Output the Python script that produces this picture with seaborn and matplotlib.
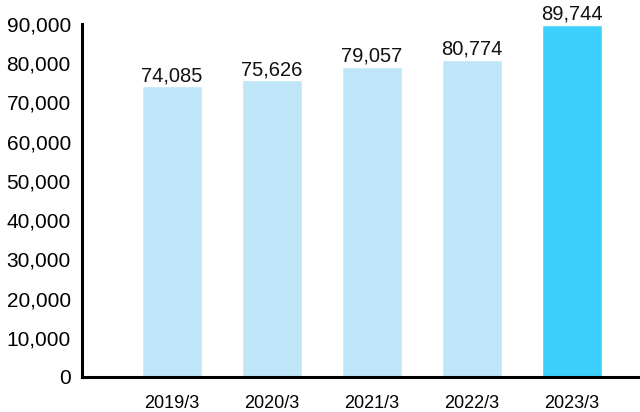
import matplotlib
matplotlib.use("Agg")
import matplotlib.pyplot as plt
import seaborn as sns
import pandas as pd

categories = ["2019/3", "2020/3", "2021/3", "2022/3", "2023/3"]
values = [74085, 75626, 79057, 80774, 89744]
bar_colors = ["#BEE5F8", "#BEE5F8", "#BEE5F8", "#BEE5F8", "#3DD0FD"]
y_ticks = [0, 10000, 20000, 30000, 40000, 50000, 60000, 70000, 80000, 90000]

sns.set_style("white")
plt.rcParams["font.family"] = ["Liberation Sans", "DejaVu Sans"]

df = pd.DataFrame({"period": categories, "value": values})

fig = plt.figure(figsize=(6.4, 4.12), dpi=100)
ax = fig.add_axes([0.128, 0.085, 0.869, 0.857])

sns.barplot(data=df, x="period", y="value", hue="period", palette=bar_colors,
            width=0.6, legend=False, ax=ax, saturation=1)

for p, v in zip(ax.patches, values):
    ax.text(p.get_x() + p.get_width() / 2, p.get_height() + 1300, f"{v:,}",
            ha="center", va="baseline", fontsize=14.5, color="#111111",
            clip_on=False)

ax.set_ylim(0, 90000)
ax.set_xlim(-0.9, 4.66)
ax.set_yticks(y_ticks)
ax.set_yticklabels([f"{t:,}" for t in y_ticks])
ax.set_xlabel("")
ax.set_ylabel("")

for s in ["top", "right"]:
    ax.spines[s].set_visible(False)
for s in ["left", "bottom"]:
    ax.spines[s].set_linewidth(2.2)
    ax.spines[s].set_color("black")

ax.tick_params(axis="y", direction="in", length=9, width=2.2, pad=8,
               labelsize=15, colors="black")
ax.tick_params(axis="x", which="major", length=0, pad=13, labelsize=13,
               colors="black")
ax.set_xticks([4.66], minor=True)
ax.tick_params(axis="x", which="minor", direction="in", length=7, width=1.6,
               colors="black")

fig.savefig("out.png", dpi=100)
